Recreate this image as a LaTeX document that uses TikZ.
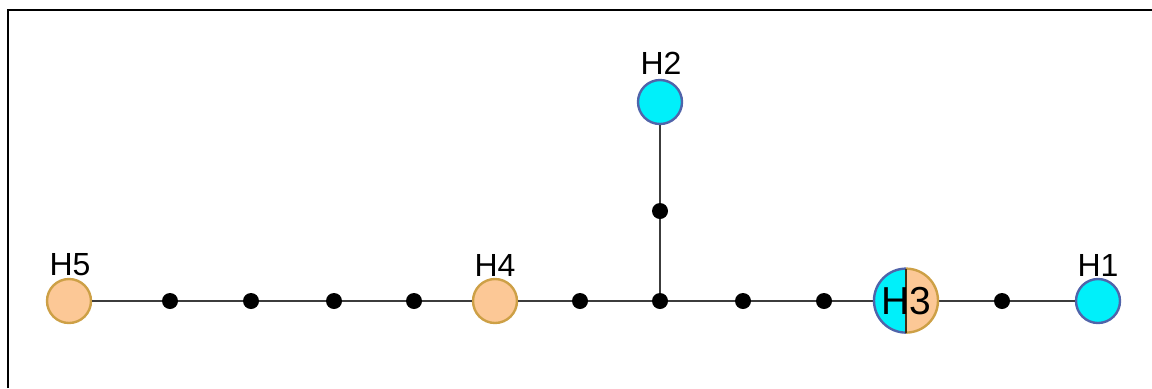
\documentclass[tikz,border=0pt]{standalone}
\usepackage{fontspec}
\setmainfont{Liberation Sans}
\definecolor{hcyan}{RGB}{0,240,250}
\definecolor{hpeach}{RGB}{252,200,150}
\definecolor{cyanedge}{RGB}{80,100,170}
\definecolor{peachedge}{RGB}{205,160,70}
\definecolor{linkgray}{RGB}{60,60,60}
\begin{document}
\begin{tikzpicture}[x=0.5pt,y=-0.5pt,
  cyannode/.style={circle,draw=cyanedge,line width=1.2pt,fill=hcyan,minimum size=22pt,inner sep=0pt},
  peachnode/.style={circle,draw=peachedge,line width=1.2pt,fill=hpeach,minimum size=22pt,inner sep=0pt},
  mv/.style={circle,fill=black,minimum size=8pt,inner sep=0pt},
  lab/.style={font=\fontsize{16}{17}\selectfont},
  link/.style={draw=linkgray,line width=0.8pt}]
\useasboundingbox (0,0) rectangle (1152,388);
\draw[line width=1.3pt] (8,388) -- (8,10) -- (1152,10);
% median vectors
\node[mv] (m1) at (170,301) {};
\node[mv] (m2) at (251,301) {};
\node[mv] (m3) at (334,301) {};
\node[mv] (m4) at (414,301) {};
\node[mv] (m5) at (580,301) {};
\node[mv] (m6) at (660,301) {};
\node[mv] (m7) at (743,301) {};
\node[mv] (m8) at (824,301) {};
\node[mv] (m9) at (1002,301) {};
\node[mv] (m10) at (660,211) {};
% haplotypes
\node[peachnode] (h5) at (69,301) {};
\node[peachnode] (h4) at (495,301) {};
\node[cyannode] (h2) at (660,102) {};
\node[cyannode] (h1) at (1098,301) {};
\node[circle,minimum size=32pt,inner sep=0pt] (h3) at (906,301) {};
% links
\path[link] (h5) -- (m1) -- (m2) -- (m3) -- (m4) -- (h4);
\path[link] (h4) -- (m5) -- (m6) -- (m7) -- (m8) -- (h3);
\path[link] (m6) -- (m10) -- (h2);
\path[link] (h3) -- (m9) -- (h1);
% H3 split circle
\fill[hcyan] (h3.north) arc[start angle=90,end angle=270,radius=16pt] -- cycle;
\fill[hpeach] (h3.north) arc[start angle=90,end angle=-90,radius=16pt] -- cycle;
\draw[cyanedge,line width=1.2pt] (h3.north) arc[start angle=90,end angle=270,radius=16pt];
\draw[peachedge,line width=1.2pt] (h3.north) arc[start angle=90,end angle=-90,radius=16pt];
\draw[black!70!peachedge,line width=1.2pt] (h3.north) -- (h3.south);
\node[lab,font=\fontsize{19.5}{20}\selectfont] (h3lab) at (h3) {H3};
% labels
\node[lab] (l5) at (70,265) {H5};
\node[lab] (l4) at (495,265) {H4};
\node[lab] (l2) at (661,63) {H2};
\node[lab] (l1) at (1098,265) {H1};
\end{tikzpicture}
\end{document}
